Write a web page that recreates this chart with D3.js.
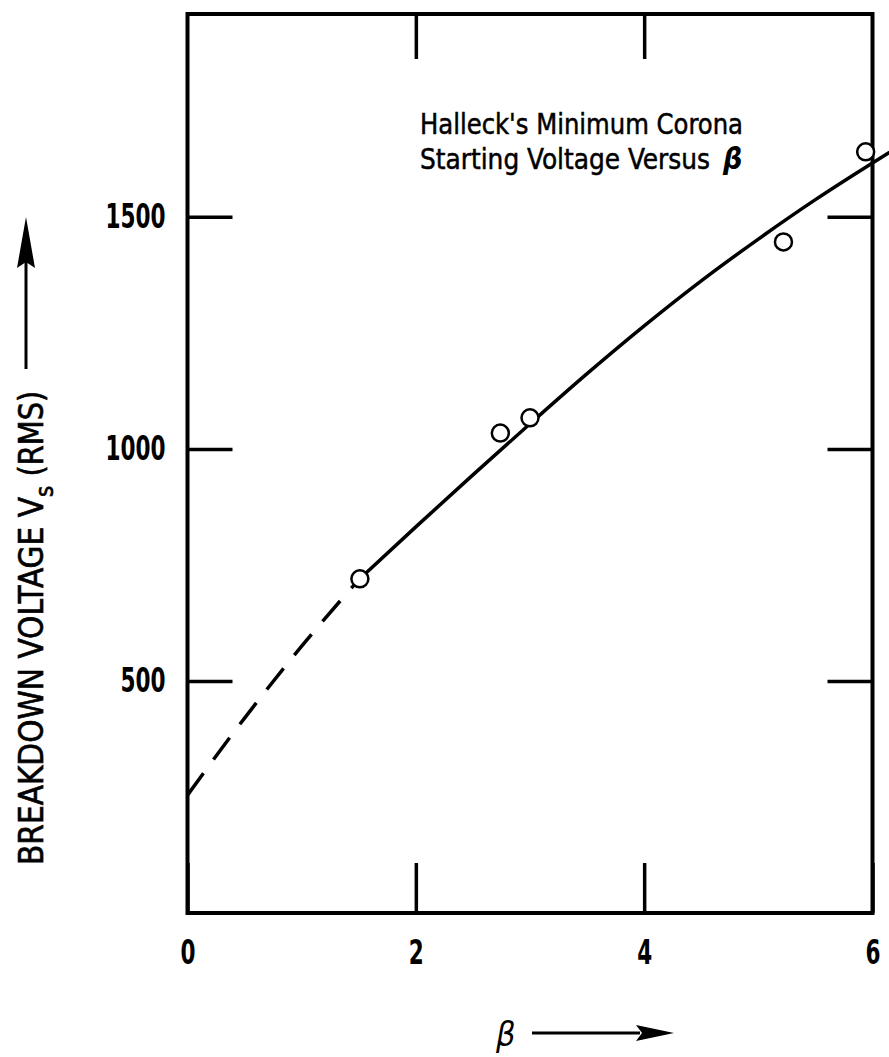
<!DOCTYPE html>
<html lang="en">
<head>
    <meta charset="UTF-8">
    <title>corona starting voltage</title>
    <script src="https://cdnjs.cloudflare.com/ajax/libs/d3/7.8.5/d3.min.js"></script>
    <style>
        body { margin: 0; background: #fff; }
        .chart text {
            font-family: 'Liberation Sans Narrow', 'DejaVu Sans Condensed', 'DejaVu Sans', sans-serif;
            fill: #000;
        }
        .axis text { font-size: 34px; font-weight: bold; }
        .axis line { stroke: #000; stroke-width: 3.5px; }
        .axis path { display: none; }
    </style>
</head>
<body>
    <svg class="chart"></svg>
    <script>
        // measured points
        const betaPts = [1.51, 2.74, 3.00, 5.22, 5.94];
        const vsPts = [720, 1034, 1067, 1446, 1640];

        // extrapolated part of the curve (dashed)
        const dashBeta = [0, 0.5, 1.0, 1.5];
        const dashVs = [254, 420, 575, 718];

        // fitted curve (solid)
        const fitBeta = [1.5, 2.0, 2.5, 3.0, 3.5, 4.0, 4.5, 5.0, 5.5, 6.0, 6.15];
        const fitVs = [718, 832, 944, 1054, 1162, 1265, 1362, 1452, 1537, 1616, 1639];

        const xTicks = [0, 2, 4, 6];
        const yTicks = [500, 1000, 1500];

        const W = 889, H = 1057;
        const margin = {top: 14, left: 187.5},
            width = 685,
            height = 899;

        const x = d3.scaleLinear().domain([0, 6]).range([0, width]);
        const y = d3.scaleLinear().domain([0, 1937]).range([height, 0]);

        const svg = d3.select('.chart')
            .attr('width', W)
            .attr('height', H);

        const chart = svg.append('g')
            .attr('transform', `translate(${margin.left}, ${margin.top})`);

        // condensed look: squeeze each label to ~15px per digit
        function squeeze(sel) {
            sel.selectAll('text')
                .attr('textLength', function() { return this.textContent.length * 15; })
                .attr('lengthAdjust', 'spacingAndGlyphs');
        }

        // axes, ticks pointing inward
        chart.append('g')
            .attr('class', 'axis')
            .attr('transform', `translate(0, ${height})`)
            .call(d3.axisBottom(x).tickValues(xTicks).tickSizeInner(-50).tickSizeOuter(0)
                .tickPadding(27).tickFormat(d3.format('d')))
            .call(squeeze);

        chart.append('g')
            .attr('class', 'axis')
            .call(d3.axisTop(x).tickValues([2, 4]).tickSizeInner(-45).tickSizeOuter(0).tickFormat(''));

        chart.append('g')
            .attr('class', 'axis')
            .call(d3.axisLeft(y).tickValues(yTicks).tickSizeInner(-45).tickSizeOuter(0)
                .tickPadding(22).tickFormat(d3.format('d')))
            .call(squeeze);

        chart.append('g')
            .attr('class', 'axis')
            .attr('transform', `translate(${width}, 0)`)
            .call(d3.axisRight(y).tickValues(yTicks).tickSizeInner(-45).tickSizeOuter(0).tickFormat(''));

        // frame
        chart.append('rect')
            .attr('width', width)
            .attr('height', height)
            .attr('fill', 'none')
            .attr('stroke', '#000')
            .attr('stroke-width', 4);

        const line = d3.line()
            .x(d => x(d[0]))
            .y(d => y(d[1]))
            .curve(d3.curveMonotoneX);

        chart.append('path')
            .datum(dashBeta.map((b, i) => [b, dashVs[i]]))
            .attr('d', line)
            .attr('fill', 'none')
            .attr('stroke', '#000')
            .attr('stroke-width', 3.5)
            .attr('stroke-dasharray', '27,17');

        chart.append('path')
            .datum(fitBeta.map((b, i) => [b, fitVs[i]]))
            .attr('d', line)
            .attr('fill', 'none')
            .attr('stroke', '#000')
            .attr('stroke-width', 3.5);

        chart.selectAll('.pt')
            .data(betaPts.map((b, i) => [b, vsPts[i]]))
            .enter().append('circle')
            .attr('class', 'pt')
            .attr('cx', d => x(d[0]))
            .attr('cy', d => y(d[1]))
            .attr('r', 8.5)
            .attr('fill', '#fff')
            .attr('stroke', '#000')
            .attr('stroke-width', 2.5);

        // title inside plot
        const title = svg.append('text')
            .attr('font-size', 29)
            .attr('stroke', '#000')
            .attr('stroke-width', 0.5);
        title.append('tspan').attr('x', 420).attr('y', 134)
            .attr('textLength', 323).attr('lengthAdjust', 'spacingAndGlyphs')
            .text("Halleck's Minimum Corona");
        title.append('tspan').attr('x', 420).attr('y', 169)
            .attr('textLength', 290).attr('lengthAdjust', 'spacingAndGlyphs')
            .text('Starting Voltage Versus');
        svg.append('text')
            .attr('x', 723).attr('y', 169)
            .attr('font-family', 'DejaVu Sans')
            .attr('font-style', 'italic')
            .attr('font-weight', 'bold')
            .attr('font-size', 30)
            .text('β');

        // y axis title with arrow
        const yl = svg.append('text')
            .attr('transform', 'translate(43, 865) rotate(-90)')
            .attr('font-size', 33)
            .attr('stroke', '#000')
            .attr('stroke-width', 0.6);
        yl.append('tspan')
            .attr('textLength', 368).attr('lengthAdjust', 'spacingAndGlyphs')
            .text('BREAKDOWN VOLTAGE V');
        yl.append('tspan').attr('font-size', 24).attr('dy', 10).text('s');
        yl.append('tspan').attr('dy', -10)
            .attr('textLength', 95).attr('lengthAdjust', 'spacingAndGlyphs')
            .text(' (RMS)');

        svg.append('line')
            .attr('x1', 26).attr('x2', 26)
            .attr('y1', 369).attr('y2', 262)
            .attr('stroke', '#000').attr('stroke-width', 3);
        svg.append('path')
            .attr('d', 'M26,217 L35,268 L26,262 L17,268 Z')
            .attr('fill', '#000');

        // x axis title with arrow
        svg.append('text')
            .attr('x', 496).attr('y', 1046)
            .attr('font-family', 'DejaVu Sans')
            .attr('font-style', 'italic')
            .attr('font-size', 34)
            .text('β');
        svg.append('line')
            .attr('x1', 532).attr('x2', 640)
            .attr('y1', 1033).attr('y2', 1033)
            .attr('stroke', '#000').attr('stroke-width', 3);
        svg.append('path')
            .attr('d', 'M674,1033 L636,1025 L642,1033 L636,1041 Z')
            .attr('fill', '#000');
    </script>
</body>
</html>
